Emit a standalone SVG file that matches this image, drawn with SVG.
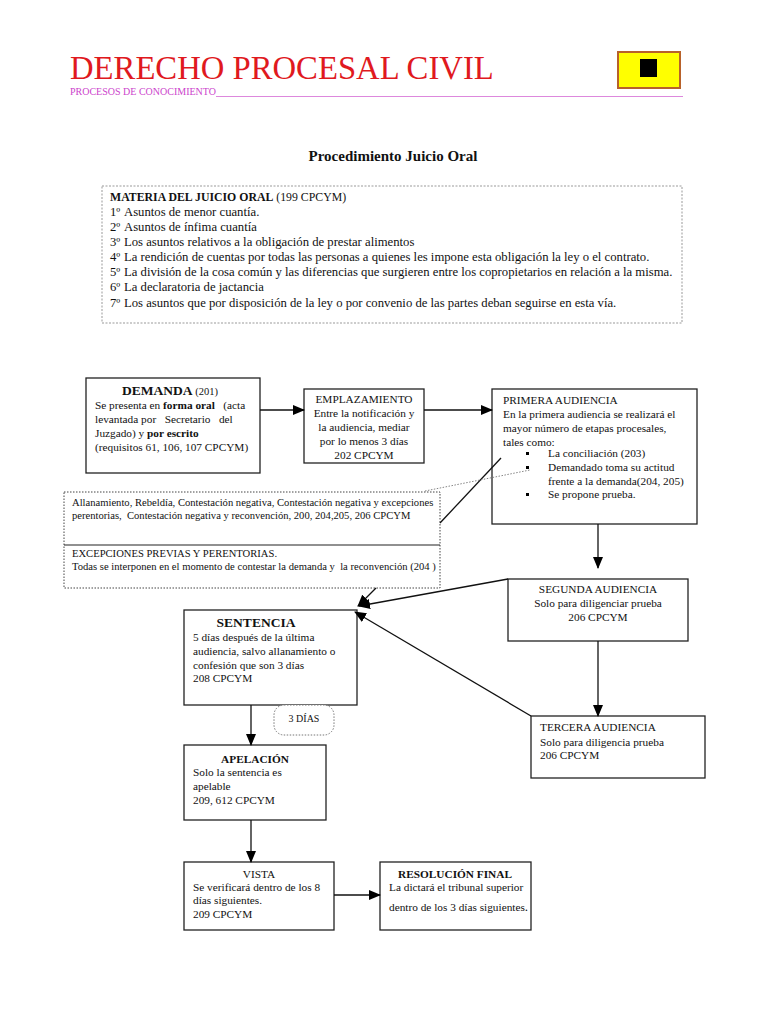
<svg xmlns="http://www.w3.org/2000/svg" width="768" height="1024" viewBox="0 0 768 1024">
<defs>
<marker id="ah" markerUnits="userSpaceOnUse" markerWidth="12" markerHeight="10" refX="11" refY="5" orient="auto">
<path d="M0,0 L12,5 L0,10 Z" fill="#000"/>
</marker>
</defs>
<style>
text{font-family:"Liberation Serif","Times New Roman",serif;fill:#111;}
.box{fill:#fff;stroke:#222;stroke-width:1.3;}
.t{font-size:11.3px;}
.tm{font-size:12.7px;}
.ts{font-size:10.6px;}
.b{font-weight:bold;}
.c{text-anchor:middle;}
.con{stroke:#111;stroke-width:1.3;fill:none;}
</style>
<rect width="768" height="1024" fill="#fff"/>

<g id="header">
<text x="70" y="79" style="font-size:32.7px;fill:#e0191e;">DERECHO PROCESAL CIVIL</text>
<text x="70" y="95" style="font-size:10px;fill:#cc44cc;">PROCESOS DE CONOCIMIENTO</text>
<line x1="216" y1="96.5" x2="683" y2="96.5" stroke="#dd88dd" stroke-width="1"/>
<rect x="618" y="52" width="62" height="36" fill="#ffff00" stroke="#b8612a" stroke-width="2"/>
<rect x="640" y="59" width="17" height="18" fill="#000"/>
<text x="393" y="161" class="c b" style="font-size:15px;">Procedimiento Juicio Oral</text>
</g>

<g id="materia">
<rect x="102" y="186" width="580" height="137" fill="#fff" stroke="#999" stroke-width="1" stroke-dasharray="2,1.5"/>
<text x="110" y="201" style="font-size:11.8px;"><tspan class="b">MATERIA DEL JUICIO ORAL</tspan> (199 CPCYM)</text>
<text x="110" y="216" class="tm">1º</text><text x="124" y="216" class="tm">Asuntos de menor cuantía.</text>
<text x="110" y="231" class="tm">2º</text><text x="124" y="231" class="tm">Asuntos de ínfima cuantía</text>
<text x="110" y="246" class="tm">3º</text><text x="124" y="246" class="tm">Los asuntos relativos a la obligación de prestar alimentos</text>
<text x="110" y="261" class="tm">4º</text><text x="124" y="261" class="tm">La rendición de cuentas por todas las personas a quienes les impone esta obligación la ley o el contrato.</text>
<text x="110" y="276" class="tm">5º</text><text x="124" y="276" class="tm">La división de la cosa común y las diferencias que surgieren entre los copropietarios en relación a la misma.</text>
<text x="110" y="291" class="tm">6º</text><text x="124" y="291" class="tm">La declaratoria de jactancia</text>
<text x="110" y="307" class="tm">7º</text><text x="124" y="307" class="tm">Los asuntos que por disposición de la ley o por convenio de las partes deban seguirse en esta vía.</text>
</g>

<g id="demanda">
<rect class="box" x="86" y="378" width="174" height="95"/>
<text x="170" y="395" class="c"><tspan class="b" style="font-size:13.5px;">DEMANDA</tspan><tspan style="font-size:10.5px;"> (201)</tspan></text>
<text x="95" y="409" class="t" xml:space="preserve">Se presenta en <tspan class="b">forma oral</tspan>   (acta</text>
<text x="95" y="423" class="t" xml:space="preserve">levantada por   Secretario   del</text>
<text x="95" y="437" class="t">Juzgado) y <tspan class="b">por escrito</tspan></text>
<text x="95" y="451" class="t">(requisitos 61, 106, 107 CPCYM)</text>
</g>

<g id="emplazamiento">
<rect class="box" x="304" y="389" width="120" height="74"/>
<text x="364" y="403" class="t c">EMPLAZAMIENTO</text>
<text x="364" y="417" class="t c">Entre la notificación y</text>
<text x="364" y="431" class="t c">la audiencia, mediar</text>
<text x="364" y="445" class="t c">por lo menos 3 días</text>
<text x="364" y="459" class="t c">202 CPCYM</text>
</g>

<g id="primera">
<rect class="box" x="492" y="389" width="205" height="135"/>
<text x="503" y="404" class="t">PRIMERA AUDIENCIA</text>
<text x="503" y="418" class="t">En la primera audiencia se realizará el</text>
<text x="503" y="432" class="t">mayor número de etapas procesales,</text>
<text x="503" y="446" class="t">tales como:</text>
<rect x="526" y="452" width="3" height="3" fill="#000"/>
<rect x="526" y="466" width="3" height="3" fill="#000"/>
<rect x="526" y="493" width="3" height="3" fill="#000"/>
<text x="548" y="457" class="t">La conciliación (203)</text>
<text x="548" y="471" class="t">Demandado toma su actitud</text>
<text x="548" y="485" class="t">frente a la demanda(204, 205)</text>
<text x="548" y="498" class="t">Se propone prueba.</text>
</g>

<g id="allanamiento">
<rect x="64" y="492" width="376" height="96" fill="#fff" stroke="#444" stroke-width="1" stroke-dasharray="1.5,1.5"/>
<line x1="64" y1="545" x2="440" y2="545" stroke="#222" stroke-width="1.2"/>
<text x="72" y="506" class="ts">Allanamiento, Rebeldía, Contestación negativa, Contestación negativa y excepciones</text>
<text x="72" y="519" class="ts" xml:space="preserve">perentorias,  Contestación negativa y reconvención, 200, 204,205, 206 CPCYM</text>
</g>

<g id="excepciones">
<text x="72" y="557" class="ts">EXCEPCIONES PREVIAS Y PERENTORIAS.</text>
<text x="72" y="570" class="ts" xml:space="preserve">Todas se interponen en el momento de contestar la demanda y  la reconvención (204 )</text>
</g>

<g id="segunda">
<rect class="box" x="508" y="579" width="180" height="62"/>
<text x="598" y="593" class="t c">SEGUNDA AUDIENCIA</text>
<text x="598" y="607" class="t c">Solo para diligenciar prueba</text>
<text x="598" y="621" class="t c">206 CPCYM</text>
</g>

<g id="tercera">
<rect class="box" x="531" y="716" width="174" height="62"/>
<text x="540" y="731" class="t">TERCERA AUDIENCIA</text>
<text x="540" y="746" class="t">Solo para diligencia prueba</text>
<text x="540" y="759" class="t">206 CPCYM</text>
</g>

<g id="sentencia">
<rect class="box" x="184" y="610" width="173" height="95"/>
<text x="256" y="627" class="c b" style="font-size:13.5px;">SENTENCIA</text>
<text x="193" y="641" class="t">5 días después de la última</text>
<text x="193" y="655" class="t">audiencia, salvo allanamiento o</text>
<text x="193" y="669" class="t">confesión que son 3 días</text>
<text x="193" y="682" class="t">208 CPCYM</text>
</g>

<g id="tres-dias">
<rect x="274" y="705" width="60" height="30" rx="10" ry="10" fill="#fff" stroke="#777" stroke-width="1" stroke-dasharray="1.5,1.5"/>
<text x="304" y="722" class="c" style="font-size:10px;">3 DÍAS</text>
</g>

<g id="apelacion">
<rect class="box" x="184" y="745" width="142" height="75"/>
<text x="255" y="763" class="c b" style="font-size:11.3px;">APELACIÓN</text>
<text x="193" y="776" class="t">Solo la sentencia es</text>
<text x="193" y="790" class="t">apelable</text>
<text x="193" y="804" class="t">209, 612 CPCYM</text>
</g>

<g id="vista">
<rect class="box" x="184" y="862" width="150" height="68"/>
<text x="259" y="878" class="t c">VISTA</text>
<text x="193" y="891" class="t">Se verificará dentro de los 8</text>
<text x="193" y="904" class="t">días siguientes.</text>
<text x="193" y="918" class="t">209 CPCYM</text>
</g>

<g id="resolucion">
<rect class="box" x="380" y="862" width="151" height="68"/>
<text x="455" y="878" class="c b" style="font-size:11.3px;">RESOLUCIÓN FINAL</text>
<text x="389" y="891" class="t">La dictará el tribunal superior</text>
<text x="389" y="911" class="t">dentro de los 3 días siguientes<tspan style="font-size:13px;">.</tspan></text>
</g>

<g id="connectors">
<line class="con" x1="260" y1="410" x2="304" y2="410" marker-end="url(#ah)"/>
<line class="con" x1="424" y1="410" x2="492" y2="410" marker-end="url(#ah)"/>
<line class="con" x1="440" y1="523" x2="501" y2="458"/>
<line x1="425" y1="491" x2="530" y2="470" stroke="#777" stroke-width="0.9" stroke-dasharray="1.5,1.5"/>
<line class="con" x1="598" y1="524" x2="598" y2="568" marker-end="url(#ah)"/>
<line class="con" x1="598" y1="641" x2="598" y2="716" marker-end="url(#ah)"/>
<line class="con" x1="376" y1="588" x2="358" y2="606" marker-end="url(#ah)"/>
<line class="con" x1="508" y1="579" x2="359" y2="606" marker-end="url(#ah)"/>
<line class="con" x1="531" y1="716" x2="355" y2="612" marker-end="url(#ah)"/>
<line class="con" x1="251" y1="705" x2="251" y2="745" marker-end="url(#ah)"/>
<line class="con" x1="251" y1="820" x2="251" y2="862" marker-end="url(#ah)"/>
<line class="con" x1="334" y1="895" x2="380" y2="895" marker-end="url(#ah)"/>
</g>
</svg>
